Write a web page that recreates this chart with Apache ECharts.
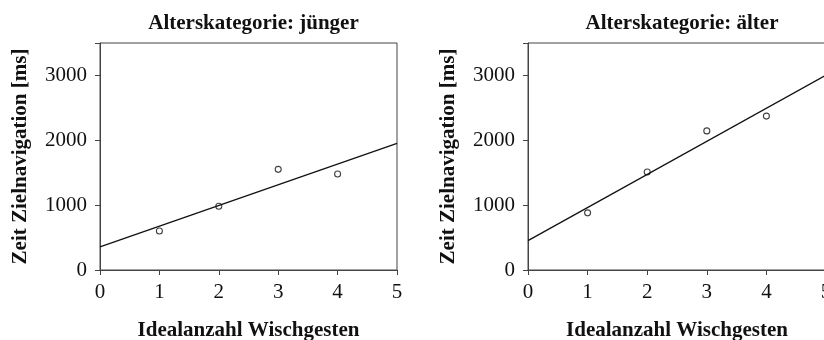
<!DOCTYPE html>
<html>
<head>
<meta charset="utf-8">
<script src="https://cdn.jsdelivr.net/npm/echarts@6/dist/echarts.min.js"></script>
<style>
  html, body { margin: 0; padding: 0; background: #fff; }
  #chart { width: 824px; height: 340px; }
</style>
</head>
<body>
<div id="chart"></div>
<script>
// Ideal number of swipe gestures (x) vs. target navigation time (ms)
const panelTitles = ['Alterskategorie: jünger', 'Alterskategorie: älter'];
const xName = 'Idealanzahl Wischgesten';
const yName = 'Zeit Zielnavigation [ms]';

const gesturesCount = [1, 2, 3, 4];
const timeYounger = [602, 984, 1552, 1480];
const timeOlder = [881, 1511, 2145, 2373];

// fitted lines, endpoints at x = 0 and x = 5
const fitX = [0, 5];
const fitYounger = [355, 1952];
const fitOlder = [452, 3003];

const FONT = 'Liberation Serif';

const grids = [
  { left: 100, top: 43, width: 297, height: 227 },
  { left: 528, top: 43, width: 298, height: 227 }
];

function pairs(xs, ys) { return xs.map((x, i) => [x, ys[i]]); }

function xAxisFor(i) {
  return {
    type: 'value', gridIndex: i, min: 0, max: 5, interval: 1,
    name: xName, nameLocation: 'middle', nameGap: 50,
    nameTextStyle: { fontFamily: FONT, fontWeight: 'bold', fontSize: 21, color: '#111' },
    axisLine: { show: true, onZero: false, lineStyle: { color: '#444', width: 1 } },
    axisTick: { show: true, length: 5, lineStyle: { color: '#444' } },
    axisLabel: { fontFamily: FONT, fontSize: 21, color: '#111', margin: 12 },
    splitLine: { show: false }
  };
}

function yAxisFor(i) {
  return {
    type: 'value', gridIndex: i, min: 0, max: 3500, interval: 1000,
    name: yName, nameLocation: 'middle', nameGap: 69,
    nameTextStyle: { fontFamily: FONT, fontWeight: 'bold', fontSize: 21, color: '#111' },
    axisLine: { show: true, onZero: false, lineStyle: { color: '#444', width: 1 } },
    axisTick: { show: true, length: 5, lineStyle: { color: '#444' } },
    axisLabel: {
      fontFamily: FONT, fontSize: 21, color: '#111', margin: 13,
      formatter: v => (v % 1000 === 0 ? String(v) : '')
    },
    splitLine: { show: false }
  };
}

const groups = [
  { pts: timeYounger, fit: fitYounger },
  { pts: timeOlder, fit: fitOlder }
];

const series = [];
groups.forEach((g, i) => {
  series.push({
    type: 'line', xAxisIndex: i, yAxisIndex: i,
    data: pairs(fitX, g.fit), showSymbol: false, silent: true,
    lineStyle: { color: '#111', width: 1.3 }
  });
  series.push({
    type: 'scatter', xAxisIndex: i, yAxisIndex: i,
    data: pairs(gesturesCount, g.pts),
    symbol: 'circle', symbolSize: 6,
    itemStyle: { color: '#fff', borderColor: '#111', borderWidth: 1.1 }
  });
});

const chart = echarts.init(document.getElementById('chart'), null, { renderer: 'canvas' });
chart.setOption({
  backgroundColor: '#fff',
  animation: false,
  title: panelTitles.map((t, i) => ({
    text: t,
    left: grids[i].left + grids[i].width / 2,
    top: 8,
    textAlign: 'center',
    textStyle: { fontFamily: FONT, fontWeight: 'bold', fontSize: 21, color: '#111' }
  })),
  grid: grids.map(g => Object.assign({
    show: true, borderColor: '#444', borderWidth: 1, backgroundColor: 'transparent',
    containLabel: false, outerBoundsMode: 'none'
  }, g)),
  xAxis: [xAxisFor(0), xAxisFor(1)],
  yAxis: [yAxisFor(0), yAxisFor(1)],
  series: series
});
</script>
</body>
</html>
